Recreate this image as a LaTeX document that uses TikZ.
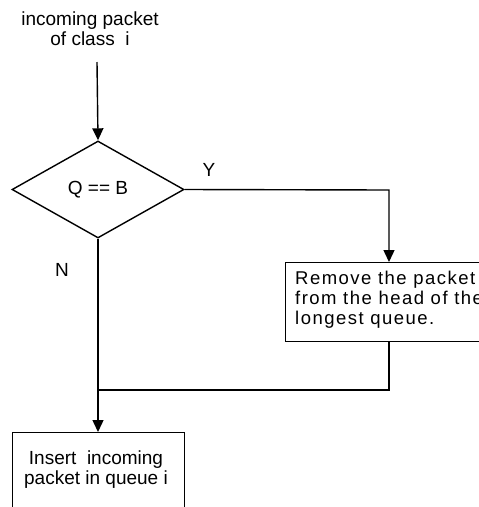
\documentclass[tikz,border=0pt]{standalone}
\usepackage{fontspec}
\setmainfont{Liberation Sans}
\usetikzlibrary{shapes.geometric,arrows.meta}
\begin{document}
\begin{tikzpicture}[x=1pt,y=-1pt,
  every node/.style={font=\fontsize{19}{20}\selectfont},
  conn/.style={line width=1.4pt},
  arr/.style={conn,-{Triangle[length=12pt,width=11pt]}},
  decide/.style={draw,line width=1.4pt,diamond,inner sep=0pt,minimum width=172pt,minimum height=97pt},
  procbox/.style={draw,line width=1.4pt,rectangle,inner sep=0pt}]
\useasboundingbox (0,0) rectangle (479,507);
\node[align=center] (in) at (90,29) {incoming packet\\of class\ \ i};
\coordinate (start) at (97,62);
\node[decide] (q) at (98,189.5) {Q == B};
\node (y) at (209,170) {Y};
\node (n) at (62,270) {N};
\node[procbox,minimum width=230pt,minimum height=79pt,anchor=north west] (rm) at (285,262) {};
\node[anchor=north west,align=left,inner sep=0pt,font=\fontsize{18.5}{20}\selectfont\addfontfeature{LetterSpace=8}] (rmt) at (295,271) {Remove the packet\\from the head of the\\longest queue.};
\node[procbox,minimum width=172pt,minimum height=110pt,anchor=north west] (ins) at (12,432) {};
\node[align=center,inner sep=0pt] (inst) at (96,470) {Insert\ \ incoming\\packet in queue i};
\coordinate (rturn) at (389,190);
\coordinate (join) at (98,390);
\draw[arr] (start) -- (q.north);
\draw[arr] (q.east) -- (rturn) -- (rm.north -| rturn);
\draw[conn] (rm.south -| rturn) |- (join);
\draw[arr] (q.south) -- (ins.north -| q.south);
\end{tikzpicture}
\end{document}
